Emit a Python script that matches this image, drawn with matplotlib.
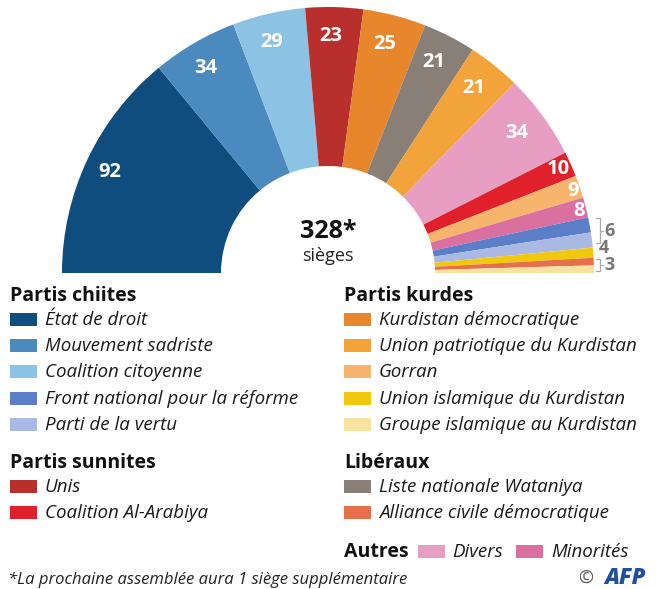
import numpy as np
import matplotlib
matplotlib.use("Agg")
import matplotlib.pyplot as plt
from matplotlib.patches import Wedge, Rectangle

# ---- data ----
parties = ["État de droit", "Mouvement sadriste", "Coalition citoyenne", "Unis",
           "Kurdistan démocratique", "Liste nationale Wataniya", "Union patriotique du Kurdistan",
           "Divers", "Coalition Al-Arabiya", "Gorran", "Minorités",
           "Front national pour la réforme", "Parti de la vertu", "Union islamique du Kurdistan",
           "Alliance civile démocratique", "Groupe islamique au Kurdistan"]
seats = [92, 34, 29, 23, 25, 21, 21, 34, 10, 9, 8, 6, 6, 4, 3, 3]
colors = ["#0f4d7e", "#4a8abf", "#8cc3e4", "#b92f2b", "#e8862b", "#8a7f76", "#f2a33a",
          "#e89dc2", "#e0202a", "#f6b46c", "#d9709f", "#5b7ec8", "#aab9e3", "#f0c90f",
          "#e5704b", "#f8e2a2"]
total_label = "328*"

groups_left = [("Partis chiites", ["État de droit", "Mouvement sadriste", "Coalition citoyenne",
                                    "Front national pour la réforme", "Parti de la vertu"]),
               ("Partis sunnites", ["Unis", "Coalition Al-Arabiya"])]
groups_right = [("Partis kurdes", ["Kurdistan démocratique", "Union patriotique du Kurdistan", "Gorran",
                                   "Union islamique du Kurdistan", "Groupe islamique au Kurdistan"]),
                ("Libéraux", ["Liste nationale Wataniya", "Alliance civile démocratique"])]
others = ["Divers", "Minorités"]

W, H = 656, 589
fig = plt.figure(figsize=(W / 100, H / 100), dpi=100)
ax = fig.add_axes([0, 0, 1, 1])
ax.set_xlim(0, W)
ax.set_ylim(0, H)
ax.set_aspect("equal")
ax.axis("off")

FONT = "Open Sans"
cx, cy = 328, H - 273
R, r_in = 266, 107
deg_per_seat = 180.0 / sum(seats)

cum = 0
for name, n, c in zip(parties, seats, colors):
    a2 = 180 - cum * deg_per_seat
    a1 = 180 - (cum + n) * deg_per_seat
    ax.add_patch(Wedge((cx, cy), R, a1, a2, width=R - r_in, facecolor=c, edgecolor="none"))
    mid = np.deg2rad((a1 + a2) / 2)
    if n >= 20:
        rl = 238
        ax.text(cx + rl * np.cos(mid) - 3, cy + rl * np.sin(mid) - 1, str(n), color="white",
                fontsize=14.5, fontweight="bold", family=FONT, ha="center", va="center")
    elif n >= 8:
        rl = R - 4
        ax.text(cx + rl * np.cos(mid) + 3, cy + rl * np.sin(mid) - 3, str(n), color="white",
                fontsize=14.5, fontweight="bold", family=FONT, ha="right", va="center")
    cum += n

# small-party labels on the right with brackets
def bracket(y_top, y_bot, label, x0=596):
    ax.plot([x0, x0 + 4, x0 + 4, x0], [y_top, y_top, y_bot, y_bot], color="#aaaaaa", lw=0.9)
    ax.plot([x0 + 4, x0 + 7], [(y_top + y_bot) / 2] * 2, color="#aaaaaa", lw=0.9)
    ax.text(x0 + 8, (y_top + y_bot) / 2, label, color="#777777", fontsize=13,
            fontweight="bold", family=FONT, ha="left", va="center")

bracket(H - 218, H - 243, str(seats[11]))
ax.text(599, H - 248, str(seats[13]), color="#777777", fontsize=13, fontweight="bold",
        family=FONT, ha="left", va="center")
bracket(H - 259, H - 271, str(seats[14]))

# center text
ax.text(cx, H - 231, total_label, fontsize=18, fontweight="bold", family=FONT,
        ha="center", va="center", color="#111111")
ax.text(cx, H - 256, "sièges", fontsize=13, family=FONT, ha="center", va="center",
        color="#222222")

color_of = dict(zip(parties, colors))

ITEM_FS = 13.5
TITLE_FS = 14

def draw_groups(groups, x0, y_start):
    y = y_start
    for title, items in groups:
        ax.text(x0, H - y, title, fontsize=TITLE_FS, fontweight="bold", family=FONT,
                ha="left", va="center", color="#111111")
        y += 24
        for it in items:
            ax.add_patch(Rectangle((x0, H - y - 6), 27, 13, facecolor=color_of[it],
                                   edgecolor="none"))
            ax.text(x0 + 35, H - y, it, fontsize=ITEM_FS, style="italic", family=FONT,
                    ha="left", va="center", color="#1a1a1a")
            y += 26.2
        y += 12

draw_groups(groups_left, 10, 296)
draw_groups(groups_right, 344, 296)

# Autres
ax.text(344, H - 552, "Autres", fontsize=TITLE_FS, fontweight="bold", family=FONT,
        ha="left", va="center", color="#111111")
ax.add_patch(Rectangle((418, H - 558), 27, 13, facecolor=color_of["Divers"], edgecolor="none"))
ax.text(452, H - 552, "Divers", fontsize=ITEM_FS, style="italic", family=FONT, ha="left",
        va="center", color="#1a1a1a")
ax.add_patch(Rectangle((516, H - 558), 27, 13, facecolor=color_of["Minorités"], edgecolor="none"))
ax.text(551, H - 552, "Minorités", fontsize=ITEM_FS, style="italic", family=FONT, ha="left",
        va="center", color="#1a1a1a")

# footnote and credit
ax.text(8, H - 580, "*La prochaine assemblée aura 1 siège supplémentaire", fontsize=12,
        style="italic", family=FONT, ha="left", va="center", color="#222222")
ax.text(593, H - 578, "©", fontsize=13, family=FONT, ha="right", va="center", color="#555555")
ax.text(646, H - 578, "AFP", fontsize=16, fontweight="heavy", style="italic", family=FONT,
        ha="right", va="center", color="#1f4f9e")

fig.savefig("out.png", dpi=100, facecolor="white")
